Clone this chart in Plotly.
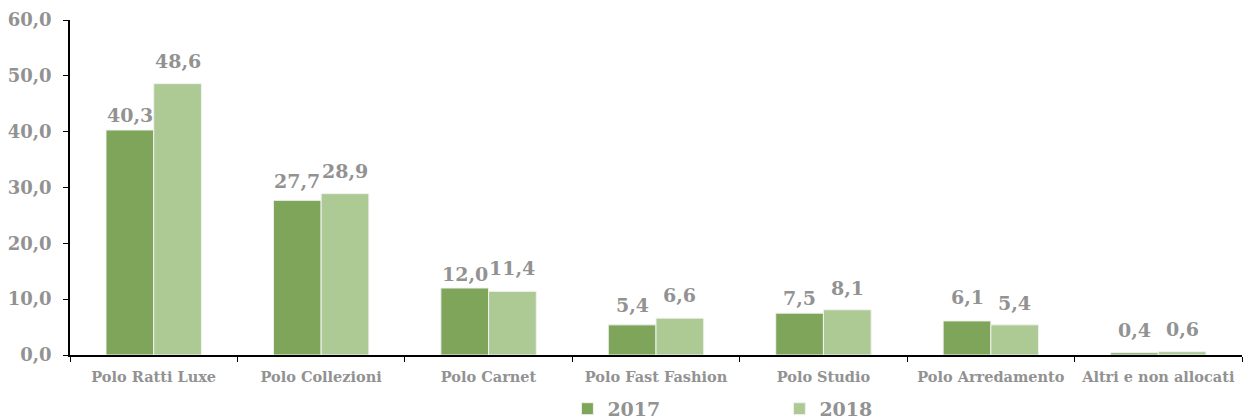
import plotly.graph_objects as go

categories = ["Polo Ratti Luxe", "Polo Collezioni", "Polo Carnet", "Polo Fast Fashion",
              "Polo Studio", "Polo Arredamento", "Altri e non allocati"]
values_2017 = [40.3, 27.7, 12.0, 5.4, 7.5, 6.1, 0.4]
values_2018 = [48.6, 28.9, 11.4, 6.6, 8.1, 5.4, 0.6]
series_names = ["2017", "2018"]

# label lift above bar top (pixels), styling only
label_lift_2017 = [15, 19, 14, 20, 15, 24, 23]
label_lift_2018 = [23, 23, 23, 23, 22, 22, 23]

GREY = "#929292"
FONT = "DejaVu Serif"
BARGAP = 0.43
PLOT_W = 1246 - 70 - 4
HALF_BAR = PLOT_W / len(categories) * (1 - BARGAP) / 4

def fmt(v):
    return f"{v:.1f}".replace(".", ",")

fig = go.Figure()
for name, vals, color in [(series_names[0], values_2017, "#7ea55a"),
                          (series_names[1], values_2018, "#adca95")]:
    fig.add_trace(go.Bar(
        x=categories, y=vals, name=name,
        marker=dict(color=color, line=dict(color="#f2f2f2", width=1)),
    ))

for vals, lifts, sign in [(values_2017, label_lift_2017, -1), (values_2018, label_lift_2018, 1)]:
    for c, v, lift in zip(categories, vals, lifts):
        fig.add_annotation(x=c, y=v, xref="x", yref="y", text=fmt(v), showarrow=False,
                           xshift=sign * HALF_BAR, yshift=lift, yanchor="middle",
                           font=dict(family=FONT, size=19, color=GREY, weight="bold"))

fig.update_layout(
    width=1246, height=419,
    margin=dict(l=70, r=4, t=20, b=64, autoexpand=False),
    paper_bgcolor="white", plot_bgcolor="white",
    barmode="group", bargap=BARGAP, bargroupgap=0,
    separators=",.",
    font=dict(family=FONT, color=GREY),
    showlegend=True,
    legend=dict(orientation="h", x=0.4244, xanchor="left", y=-0.104, yanchor="top",
                font=dict(family=FONT, size=19, color=GREY, weight="bold"),
                entrywidth=167, entrywidthmode="pixels", itemwidth=30,
                bgcolor="rgba(0,0,0,0)"),
)
fig.update_yaxes(range=[0, 60], dtick=10, tickformat=".1f",
                 showgrid=False, zeroline=False,
                 showline=True, linecolor="black", linewidth=1.5,
                 ticks="outside", ticklen=5, tickcolor="black",
                 ticklabelstandoff=8,
                 tickfont=dict(family=FONT, size=18, color=GREY, weight="bold"))
fig.update_xaxes(showgrid=False, showline=True, linecolor="black", linewidth=1.5,
                 ticks="outside", tickson="boundaries", ticklen=5, tickcolor="black",
                 ticklabelstandoff=8,
                 tickfont=dict(family=FONT, size=14.5, color=GREY, weight="bold"))

fig.write_html("out.html", config={"displayModeBar": False},
               post_script="document.body.style.margin='0px';document.body.style.overflow='hidden';")
